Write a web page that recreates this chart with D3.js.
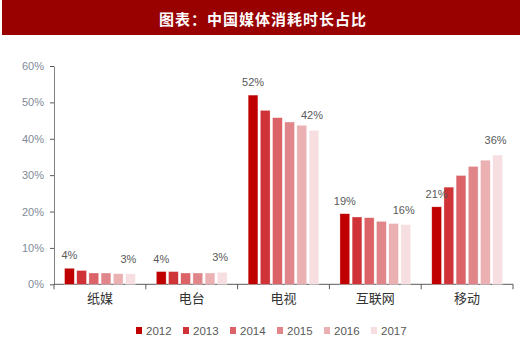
<!DOCTYPE html>
<html><head><meta charset="utf-8">
<script src="https://cdn.jsdelivr.net/npm/d3@7"></script>
<style>body{margin:0;background:#fff;}svg{display:block;}</style>
</head><body>
<svg id="c" width="520" height="344"></svg>
<script>
const title = "图表：中国媒体消耗时长占比";
const categories = ["纸媒","电台","电视","互联网","移动"];
const years = ["2012","2013","2014","2015","2016","2017"];
const values = {
  "纸媒":  [4.4, 3.8, 3.1, 3.1, 2.9, 2.9],
  "电台":  [3.5, 3.5, 3.1, 3.1, 3.1, 3.3],
  "电视":  [52.0, 47.8, 45.8, 44.6, 43.7, 42.3],
  "互联网":[19.4, 18.5, 18.3, 17.3, 16.7, 16.4],
  "移动":  [21.3, 26.7, 29.9, 32.4, 34.1, 35.5]
};
const firstLabels = ["4%","4%","52%","19%","21%"];
const lastLabels  = ["3%","3%","42%","16%","36%"];
const yTicks = [0,10,20,30,40,50,60];
const colors = ["#C00000","#CF3338","#DB6266","#E0868A","#EBB0B2","#F7DFE1"];

const svg = d3.select("#c");
svg.append("rect").attr("x",2).attr("y",0).attr("width",518).attr("height",35).attr("fill","#990000");
svg.append("text").attr("x",263).attr("y",18).attr("text-anchor","middle").attr("dominant-baseline","central")
  .attr("fill","#fff").attr("font-family","'Noto Sans CJK SC'").attr("font-weight","bold").attr("font-size",15)
  .attr("letter-spacing",1).text(title);

const x0 = 54, x1 = 513, yTop = 66, yBot = 284.3;
const x = d3.scaleBand().domain(categories).range([x0,x1]).paddingInner(0.23).paddingOuter(0.115);
const xg = d3.scaleBand().domain(years).range([0,x.bandwidth()]).paddingInner(0.2);
const y = d3.scaleLinear().domain([0,60]).range([yBot,yTop]);

// y axis
const ya = svg.append("g").attr("transform",`translate(${x0},0)`)
  .call(d3.axisLeft(y).tickValues(yTicks).tickFormat(d=>d+"%").tickSize(4).tickSizeOuter(0));
ya.select(".domain").attr("stroke","#7f7f7f");
ya.selectAll(".tick line").attr("stroke","#595959");
ya.selectAll("text").attr("fill","#7f8a9a").attr("font-family","'Liberation Sans',Arial").attr("font-size",11).attr("x",-10);

// x axis
const step = (x1-x0)/categories.length;
const xa = svg.append("g").attr("transform",`translate(0,${yBot})`)
  .call(d3.axisBottom(x).tickSize(0).tickSizeOuter(0));
xa.select(".domain").attr("stroke","#595959").attr("d",`M${x0},0H${x1}`);
xa.selectAll("text").attr("fill","#333").attr("font-family","'Noto Sans CJK SC'").attr("font-size",13).attr("dy",0).attr("y",19);
d3.range(categories.length+1).forEach(i=>{
  xa.append("line").attr("x1",x0+i*step).attr("x2",x0+i*step).attr("y1",0).attr("y2",5).attr("stroke","#595959");
});

// bars
const groups = svg.append("g").selectAll("g").data(categories).join("g")
  .attr("transform",d=>`translate(${x(d)},0)`);
groups.selectAll("rect").data(c=>values[c].map((v,i)=>({v,i,year:years[i]}))).join("rect")
  .attr("x",d=>xg(d.year)).attr("width",xg.bandwidth())
  .attr("y",d=>y(d.v)).attr("height",d=>yBot-y(d.v))
  .attr("fill",d=>colors[d.i]).attr("stroke","#fff").attr("stroke-opacity",0.5).attr("stroke-width",0.6);

// labels
categories.forEach((c,ci)=>{
  const vals = values[c];
  svg.append("text").attr("x",x(c)+xg("2012")+xg.bandwidth()/2).attr("y",y(vals[0])-13)
    .attr("text-anchor","middle").attr("dominant-baseline","central").attr("fill","#595959")
    .attr("font-family","'Liberation Sans',Arial").attr("font-size",11).text(firstLabels[ci]);
  svg.append("text").attr("x",x(c)+xg("2017")+xg.bandwidth()/2-2).attr("y",y(vals[5])-15)
    .attr("text-anchor","middle").attr("dominant-baseline","central").attr("fill","#595959")
    .attr("font-family","'Liberation Sans',Arial").attr("font-size",11).text(lastLabels[ci]);
});

// legend
const lg = svg.append("g");
years.forEach((yr,i)=>{
  const lx = 136 + i*47;
  lg.append("rect").attr("x",lx).attr("y",327).attr("width",6).attr("height",7).attr("fill",colors[i]);
  lg.append("text").attr("x",lx+10).attr("y",331).attr("dominant-baseline","central").attr("fill","#595959")
    .attr("font-family","'Liberation Sans',Arial").attr("font-size",11.5).text(yr);
});
</script>
</body></html>
